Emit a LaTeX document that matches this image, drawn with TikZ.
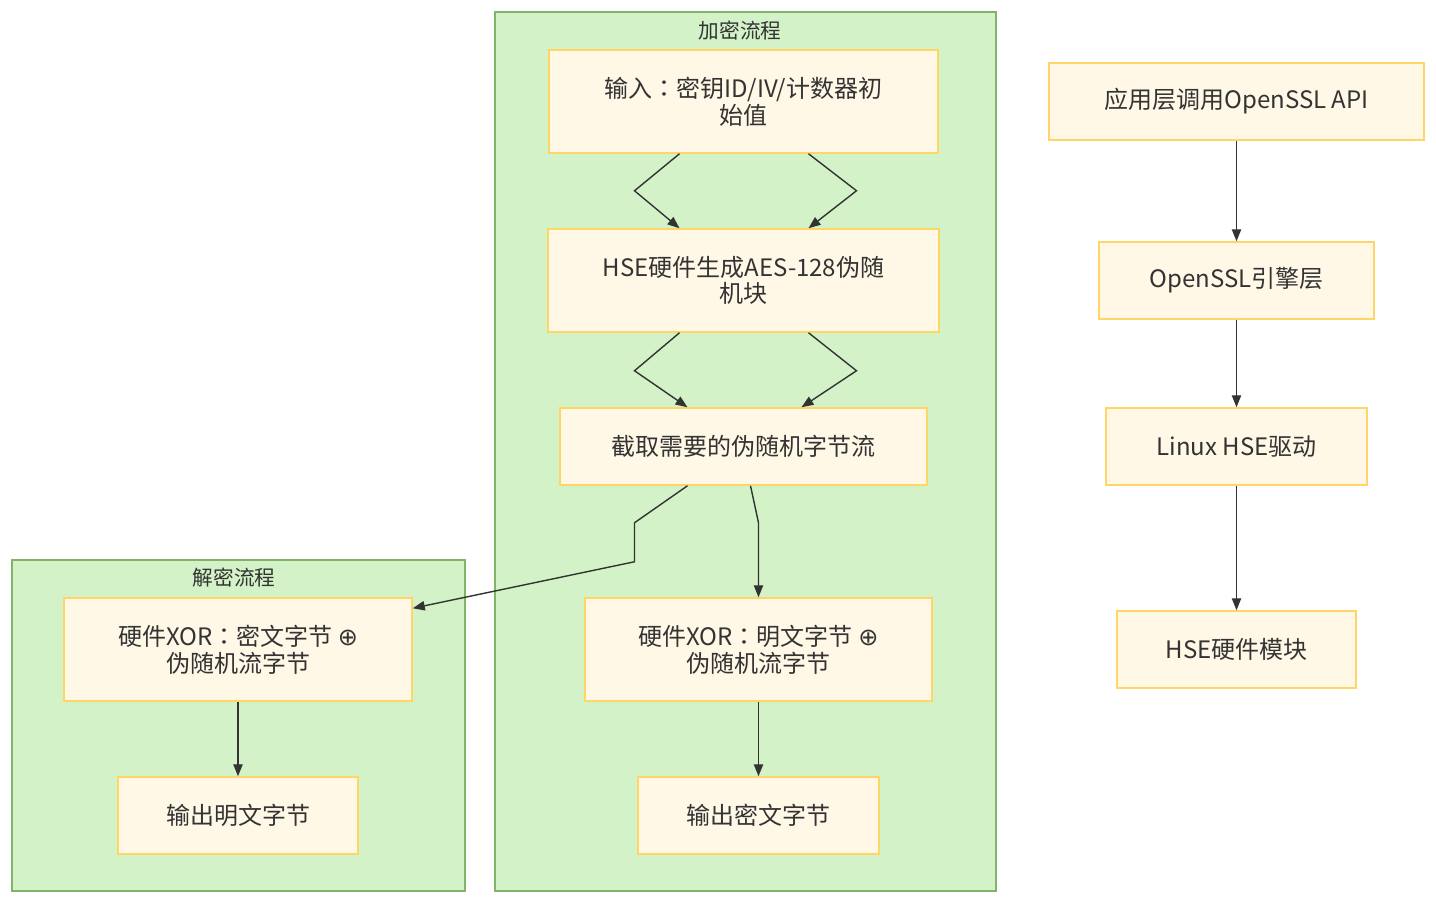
\documentclass[tikz,border=0pt]{standalone}
\usepackage{fontspec}
\setmainfont{Noto Sans CJK SC}
\newfontfamily\symfont{DejaVu Sans}
\newfontfamily\tcfont{Noto Sans CJK TC}
\usetikzlibrary{arrows.meta, positioning, calc}
\newcommand{\px}{0.75pt}
\newcommand{\colonmark}{{\tcfont ：}}
\definecolor{clusterfill}{HTML}{D3F2C7}
\definecolor{clusterline}{HTML}{82B366}
\definecolor{boxfill}{HTML}{FFF8E7}
\definecolor{boxline}{HTML}{FFD666}
\definecolor{ink}{HTML}{333333}

\begin{document}
\begin{tikzpicture}[x=\px, y=-\px,
    cluster/.style={draw=clusterline, fill=clusterfill, line width=1.5*\px},
    clusterlabel/.style={text=ink, font=\fontsize{15.5}{18}\selectfont},
    box/.style={draw=boxline, fill=boxfill, line width=1.5*\px, text=ink,
        align=center, inner sep=0pt, font=\fontsize{18}{20}\selectfont},
    flow/.style={draw=ink, line width=1.4*\px, -{Triangle[length=9pt, width=7pt]}}]
\useasboundingbox (0,0) rectangle (1436,904);

% clusters
\draw[cluster] (495,12) rectangle (996,891);
\node[clusterlabel] (enclabel) at (740,31) {加密流程};
\draw[cluster] (12,560) rectangle (465,891);
\node[clusterlabel] (declabel) at (234,578) {解密流程};

% encryption
\node[box, minimum width=389*\px, minimum height=103*\px] (in1) at (743.5,101.5) {输入\colonmark 密钥ID/IV/计数器初\\始值};
\node[box, minimum width=391*\px, minimum height=103*\px] (hse) at (743.5,280.5) {HSE硬件生成AES-128伪随\\机块};
\node[box, minimum width=367*\px, minimum height=77*\px] (cut) at (743.5,446.5) {截取需要的伪随机字节流};
\node[box, minimum width=347*\px, minimum height=103*\px] (xorE) at (758.5,649.5) {硬件XOR\colonmark 明文字节 {\symfont ⊕}\\伪随机流字节};
\node[box, minimum width=241*\px, minimum height=77*\px] (outE) at (758.5,815.5) {输出密文字节};

% decryption
\node[box, minimum width=348*\px, minimum height=103*\px] (xorD) at (238,649.5) {硬件XOR\colonmark 密文字节 {\symfont ⊕}\\伪随机流字节};
\node[box, minimum width=240*\px, minimum height=77*\px] (outD) at (238,815.5) {输出明文字节};

% software stack
\node[box, minimum width=375*\px, minimum height=77*\px] (app) at (1236.5,101.5) {应用层调用OpenSSL API};
\node[box, minimum width=275*\px, minimum height=77*\px] (ssl) at (1236.5,280.5) {OpenSSL引擎层};
\node[box, minimum width=261*\px, minimum height=77*\px] (drv) at (1236.5,446.5) {Linux HSE驱动};
\node[box, minimum width=239*\px, minimum height=77*\px] (hw) at (1236.5,649.5) {HSE硬件模块};

\draw[flow] ([xshift=-64*\px]in1.south) -- ++(-45,37) -- ([xshift=-64*\px]hse.north);
\draw[flow] ([xshift=65*\px]in1.south) -- ++(48,37) -- ([xshift=65*\px]hse.north);
\draw[flow] ([xshift=-64*\px]hse.south) -- ++(-45,38) -- ([xshift=-56*\px]cut.north);
\draw[flow] ([xshift=65*\px]hse.south) -- ++(48,38) -- ([xshift=58*\px]cut.north);
\draw[flow] ([xshift=-56*\px]cut.south) -- ++(-53,37) -- ++(0,39) -- ([yshift=-11*\px]xorD.north east);
\draw[flow] ([xshift=7*\px]cut.south) -- ++(8,37) -- (xorE.north);
\draw[flow] (xorE) -- (outE);
\draw[flow] (xorD) -- (outD);
\draw[flow] (app) -- (ssl);
\draw[flow] (ssl) -- (drv);
\draw[flow] (drv) -- (hw);
\end{tikzpicture}
\end{document}
